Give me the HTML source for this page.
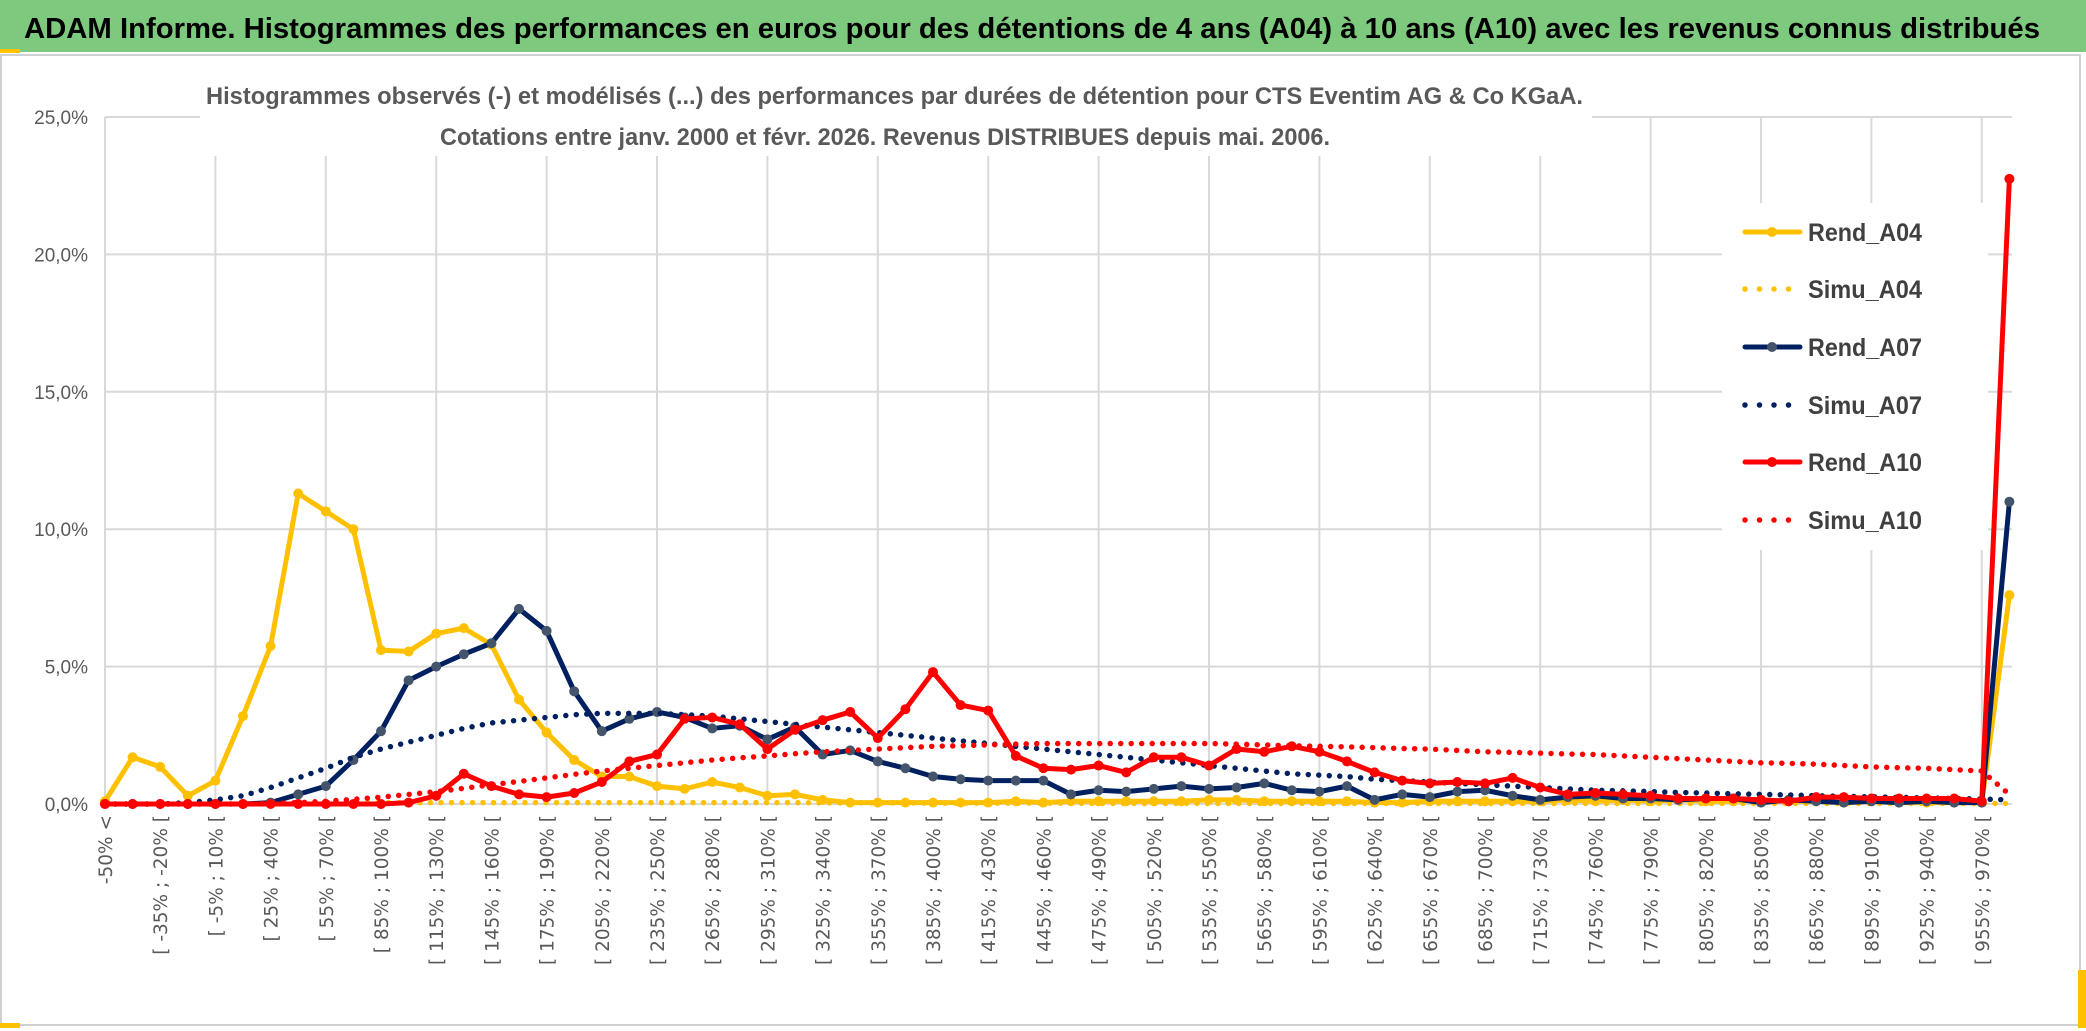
<!DOCTYPE html>
<html><head><meta charset="utf-8"><style>
html,body{margin:0;padding:0;background:#fff;}
svg{display:block;}
</style></head><body>
<svg id="chart" width="2086" height="1031" viewBox="0 0 2086 1031" xmlns="http://www.w3.org/2000/svg">
<rect x="0" y="0" width="2086" height="1031" fill="#fff"/>
<rect x="1" y="55" width="2079" height="970" fill="#fff" stroke="#d0d0d0" stroke-width="2"/>
<rect x="0" y="0" width="2086" height="52" fill="#7dc97d"/>
<rect x="0" y="49" width="20" height="4" fill="#ffc000"/>
<rect x="2078" y="970" width="8" height="58" fill="#ffc000"/>
<rect x="0" y="1023" width="20" height="5" fill="#ffc000"/>
<text x="24" y="38" font-family="'Liberation Sans Narrow','Liberation Sans',sans-serif" font-weight="bold" font-size="29" fill="#000" textLength="2016" lengthAdjust="spacingAndGlyphs">ADAM Informe. Histogrammes des performances en euros pour des détentions de 4 ans (A04) à 10 ans (A10) avec les revenus connus distribués</text>
<g id="grid"></g>
<rect x="200" y="68" width="1392" height="88" fill="#fff"/>
<text x="206" y="104" font-family="'Liberation Sans Narrow','Liberation Sans',sans-serif" font-weight="bold" font-size="24" fill="#595959" textLength="1377" lengthAdjust="spacingAndGlyphs">Histogrammes observés (-) et modélisés (...) des performances par durées de détention pour CTS Eventim AG &amp; Co KGaA.</text>
<text x="440" y="145" font-family="'Liberation Sans Narrow','Liberation Sans',sans-serif" font-weight="bold" font-size="24" fill="#595959" textLength="890" lengthAdjust="spacingAndGlyphs">Cotations entre janv. 2000 et févr. 2026. Revenus DISTRIBUES depuis mai. 2006.</text>
<g id="yticks"></g>
<g id="xticks"></g>
<g id="legend"></g>
<g id="series"></g>
</svg>
<script>
const yTicks = [0, 5, 10, 15, 20, 25];
const yTickLabels = ["0,0%", "5,0%", "10,0%", "15,0%", "20,0%", "25,0%"];
const categories = ["-50% <"];
for (let k = 1; k <= 68; k++) { const a = -50 + 15 * (k - 1); categories.push("[ " + a + "% ; " + (a + 15) + "% ["); }
categories.push("> 970%");
const rendA04 = [0.1,1.7,1.35,0.3,0.85,3.2,5.75,11.3,10.65,10.0,5.6,5.55,6.2,6.4,5.8,3.8,2.6,1.6,1.0,1.0,0.65,0.55,0.8,0.6,0.3,0.35,0.15,0.05,0.05,0.05,
0.05,0.05,0.05,0.1,0.05,0.1,0.1,0.1,0.1,0.1,0.15,0.15,0.1,0.1,0.1,0.1,0.05,0.05,0.1,0.1,0.1,0.1,0.1,0.15,0.1,0.15,0.1,0.15,0.1,0.1,0.15,0.1,0.1,0.05,0.1,0.05,0.05,0.05,0.05,7.6];
const simuA04 = [0,0,0,0,0,0,0.02,0.03,0.04,0.05,0.05,0.05,0.05,0.05,0.05,0.05,0.05,0.05,0.05,0.05,0.05,0.05,0.05,0.05,0.05,0.05,0.04,0.04,0.04,0.04,
0.03,0.03,0.03,0.03,0.03,0.03,0.02,0.02,0.02,0.02,0.02,0.02,0.02,0.02,0.02,0.02,0.02,0.02,0.02,0.02,0.02,0.02,0.02,0.02,0.02,0.02,0.02,0.02,0.02,0.02,0.02,0.02,0.02,0.02,0.02,0.02,0.02,0.02,0.02,0.02];
const rendA07 = [0,0,0,0,0,0,0.05,0.35,0.65,1.6,2.65,4.5,5.0,5.45,5.85,7.1,6.3,4.1,2.65,3.1,3.35,3.15,2.75,2.85,2.35,2.8,1.8,1.95,1.55,1.3,
1.0,0.9,0.85,0.85,0.85,0.35,0.5,0.45,0.55,0.65,0.55,0.6,0.75,0.5,0.45,0.65,0.15,0.35,0.25,0.45,0.5,0.3,0.15,0.25,0.3,0.2,0.2,0.15,0.2,0.2,0.05,0.15,0.1,0.05,0.1,0.05,0.1,0.05,0.05,11.0];
const simuA07 = [0,0,0,0.05,0.15,0.3,0.6,0.95,1.3,1.7,2.0,2.25,2.5,2.75,2.95,3.05,3.15,3.25,3.3,3.3,3.3,3.25,3.2,3.1,3.0,2.9,2.8,2.7,2.6,2.5,
2.4,2.3,2.2,2.1,2.0,1.9,1.8,1.7,1.6,1.5,1.4,1.3,1.2,1.1,1.05,1.0,0.9,0.85,0.8,0.75,0.7,0.65,0.6,0.55,0.5,0.48,0.45,0.42,0.4,0.37,0.35,0.33,0.3,0.28,0.26,0.24,0.22,0.2,0.18,0.15];
const rendA10 = [0,0,0,0,0,0,0,0,0,0,0,0.05,0.3,1.1,0.65,0.35,0.25,0.4,0.8,1.55,1.8,3.1,3.15,2.9,2.0,2.7,3.05,3.35,2.4,3.45,
4.8,3.6,3.4,1.75,1.3,1.25,1.4,1.15,1.7,1.7,1.4,2.0,1.9,2.1,1.9,1.55,1.15,0.85,0.75,0.8,0.75,0.95,0.6,0.35,0.4,0.35,0.3,0.2,0.2,0.2,0.15,0.1,0.25,0.25,0.2,0.2,0.2,0.2,0.1,22.75];
const simuA10 = [0,0,0,0,0,0,0.02,0.05,0.1,0.17,0.25,0.35,0.45,0.57,0.7,0.82,0.95,1.08,1.2,1.3,1.4,1.5,1.6,1.68,1.75,1.83,1.9,1.95,2.0,2.05,
2.1,2.12,2.15,2.18,2.2,2.2,2.2,2.2,2.2,2.2,2.2,2.18,2.15,2.12,2.1,2.08,2.05,2.02,2.0,1.95,1.9,1.88,1.85,1.82,1.8,1.75,1.7,1.65,1.6,1.55,1.5,1.48,1.45,1.4,1.35,1.32,1.3,1.25,1.2,0.35];
const seriesNames = ["Rend_A04","Simu_A04","Rend_A07","Simu_A07","Rend_A10","Simu_A10"];

const NS = "http://www.w3.org/2000/svg";
const X0 = 105, DX = 27.6, Y0 = 804, YMAX = 25, YTOP = 117;
function xs(i){ return X0 + DX * i; }
function ys(v){ return Y0 - (v / YMAX) * (Y0 - YTOP); }
function mk(tag, attrs, parent){ const e = document.createElementNS(NS, tag); for (const k in attrs) e.setAttribute(k, attrs[k]); parent.appendChild(e); return e; }

const grid = document.getElementById('grid');
yTicks.forEach((t) => {
  const l = mk('line', {x1: X0, x2: 2012, y1: ys(t), y2: ys(t), stroke: '#d9d9d9', 'stroke-width': 2}, grid);
  
  
});
for (let i = 0; i < categories.length; i += 4) {
  const l = mk('line', {x1: xs(i), x2: xs(i), y1: ys(25), y2: ys(0), stroke: '#d9d9d9', 'stroke-width': 2}, grid);
  
  
}
const yt = document.getElementById('yticks');
yTicks.forEach((t, k) => {
  const tx = mk('text', {x: 88, y: ys(t) + 7, 'text-anchor': 'end', 'font-family': "'Liberation Sans Narrow','Liberation Sans',sans-serif", 'font-size': 19, fill: '#595959'}, yt);
  tx.textContent = yTickLabels[k];
  
  
});
const xt = document.getElementById('xticks');
categories.forEach((c, i) => {
  if (i % 2 !== 0) return;
  const tx = mk('text', {x: 0, y: 0, 'text-anchor': 'end', 'font-family': "'DejaVu Sans',sans-serif", 'font-size': 18.5, fill: '#595959', transform: 'translate(' + (xs(i) + 7) + ',815) rotate(-90)'}, xt);
  tx.textContent = c;
  
  
});

const lg = document.getElementById('legend');
const lbg = mk('rect', {x: 1722, y: 203, width: 266, height: 347, fill: '#fff'}, lg);


const legColors = ['#ffc000','#ffc000','#002060','#002060','#ff0000','#ff0000'];
const legY = [232, 289, 347, 405, 462, 520];
seriesNames.forEach((n, k) => {
  const g = mk('g', {}, lg);
  
  
  const dotted = n.startsWith('Simu');
  const l = mk('line', {x1: 1745, x2: 1800, y1: legY[k], y2: legY[k], stroke: legColors[k], 'stroke-width': dotted ? 5.5 : 5, 'stroke-linecap': 'round', 'stroke-dasharray': dotted ? '0 14.5' : 'none'}, g);
  
  
  if (!dotted) {
    const c = mk('circle', {cx: 1772, cy: legY[k], r: 5, fill: k === 2 ? '#44546a' : legColors[k]}, g);
    
    
  }
  const t = mk('text', {x: 1808, y: legY[k] + 9, 'font-family': "'Liberation Sans Narrow','Liberation Sans',sans-serif", 'font-weight': 'bold', 'font-size': 25, fill: '#404040', textLength: 114, lengthAdjust: 'spacingAndGlyphs'}, g);
  t.textContent = n;
  
  
});

const sg = document.getElementById('series');
function drawSolid(vals, color, markerColor, name){
  const g = mk('g', {}, sg);
  
  
  const pl = mk('polyline', {points: vals.map((v,i)=>xs(i)+','+ys(v)).join(' '), fill:'none', stroke: color, 'stroke-width': 5, 'stroke-linejoin':'round'}, g);
  
  
  vals.forEach((v,i)=>{
    const c = mk('circle', {cx: xs(i), cy: ys(v), r: 5, fill: markerColor}, g);
    
    
  });
}
function drawDotted(vals, color, name){
  const pl = mk('polyline', {points: vals.map((v,i)=>xs(i)+','+ys(v)).join(' '), fill:'none', stroke: color, 'stroke-width': 5.5, 'stroke-linecap':'round', 'stroke-dasharray':'0 10.5'}, sg);
  
  
}
drawSolid(rendA04, '#ffc000', '#ffc000', 'rend-a04-series');
drawDotted(simuA04, '#ffc000', 'simu-a04-series');
drawSolid(rendA07, '#002060', '#44546a', 'rend-a07-series');
drawDotted(simuA07, '#002060', 'simu-a07-series');
drawSolid(rendA10, '#ff0000', '#ff0000', 'rend-a10-series');
drawDotted(simuA10, '#ff0000', 'simu-a10-series');
</script>
</body></html>
